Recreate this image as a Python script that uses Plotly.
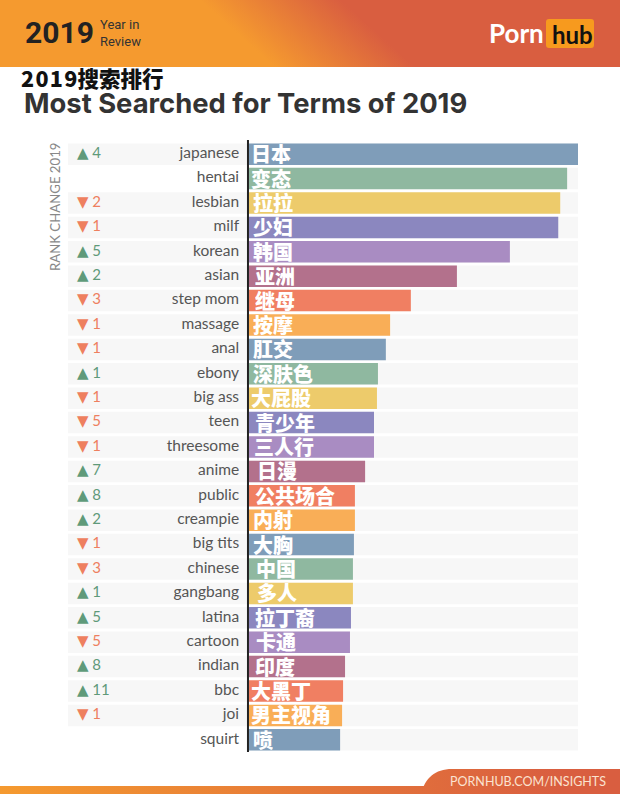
import base64
import plotly.graph_objects as go

terms = ["japanese", "hentai", "lesbian", "milf", "korean", "asian", "step mom", "massage", "anal", "ebony",
         "big ass", "teen", "threesome", "anime", "public", "creampie", "big tits", "chinese", "gangbang",
         "latina", "cartoon", "indian", "bbc", "joi", "squirt"]
terms_zh = ["日本", "变态", "拉拉", "少妇", "韩国", "亚洲", "继母", "按摩", "肛交", "深肤色",
            "大屁股", "青少年", "三人行", "日漫", "公共场合", "内射", "大胸", "中国", "多人",
            "拉丁裔", "卡通", "印度", "大黑丁", "男主视角", "喷"]
search_index = [100, 96.7, 94.6, 94, 79.3, 63.2, 49.2, 42.9, 41.6, 39.2,
                38.9, 38, 38, 35.3, 32.2, 32.2, 31.9, 31.6, 31.6,
                31, 30.7, 29.2, 28.6, 28.3, 27.7]
rank_change = [4, 0, -2, -1, 5, 2, -3, -1, -1, 1,
               -1, -5, -1, 7, 8, 2, -1, -3, 1,
               5, -5, 8, 11, -1, 0]

bar_colors = ["#7f9db9", "#8fb8a0", "#edcb6b", "#8b87bf", "#a98cc2", "#b3718c", "#f07f62", "#f9ae57"]
zh_shift = [3, 3, 5, 5, 5, 7, 7, 5, 5, 5, 3, 7, 6, 9, 7, 5, 5, 8, 9, 7, 8, 7, 3, 3, 5]

W, H = 620, 794
LEFT_EDGE = -55  # grey rows start left of the axis, under the rank change column


def px(x):
    return x / W


def py(y):
    return 1 - y / H


# header/footer bands and the logo box, gradients are not available on shapes
svg = f"""<svg xmlns="http://www.w3.org/2000/svg" width="{W}" height="{H}" viewBox="0 0 {W} {H}">
<defs>
<linearGradient id="top" gradientUnits="userSpaceOnUse" x1="200" y1="0" x2="263" y2="-70">
<stop offset="0" stop-color="#f59a2f"/><stop offset="1" stop-color="#d95e40"/></linearGradient>
<linearGradient id="bot" gradientUnits="userSpaceOnUse" x1="0" y1="0" x2="560" y2="0">
<stop offset="0" stop-color="#f59a2f"/><stop offset="1" stop-color="#d95e40"/></linearGradient>
</defs>
<rect width="{W}" height="67" fill="url(#top)"/>
<rect x="546" y="19" width="48" height="29" rx="3" fill="#f79a1e"/>
<rect y="786" width="{W}" height="8" fill="url(#bot)"/>
<path d="M421 794 C425 778 435 769 452 769 L{W} 769 L{W} 794 Z" fill="url(#bot)"/>
</svg>"""
svg_uri = "data:image/svg+xml;base64," + base64.b64encode(svg.encode()).decode()

fig = go.Figure()

# grey row backgrounds, rows without a rank change are only grey right of the axis
fig.add_trace(go.Bar(y=terms, x=[100 - LEFT_EDGE if c != 0 else 100 for c in rank_change],
                     base=[LEFT_EDGE if c != 0 else 0 for c in rank_change],
                     orientation="h", width=0.88, marker=dict(color="#f7f7f7", line_width=0),
                     hoverinfo="skip", showlegend=False))
fig.add_trace(go.Bar(y=terms, x=search_index, orientation="h", width=0.88,
                     marker=dict(color=[bar_colors[i % len(bar_colors)] for i in range(len(terms))], line_width=0),
                     showlegend=False))

fig.add_trace(go.Scatter(x=[-3] * len(terms), y=terms, mode="text", text=terms, textposition="middle left",
                         textfont=dict(family="Lato", size=15.5, color="#555555"),
                         hoverinfo="skip", showlegend=False))

# triangles as glyphs, the marker symbols sit off centre from the numbers
for sign, glyph, color in [(1, "▲", "#5f9a7a"), (-1, "▼", "#ee7f5f")]:
    rows = [i for i, c in enumerate(rank_change) if c * sign > 0]
    fig.add_trace(go.Scatter(x=[-52.3] * len(rows), y=[terms[i] for i in rows], mode="text",
                             text=[f'<span style="font-family:DejaVu Sans">{glyph}</span> {abs(rank_change[i])}'
                                   for i in rows],
                             textposition="middle right",
                             textfont=dict(family="Lato", size=15, color=color),
                             hoverinfo="skip", showlegend=False))

annotations = []
for term, label, shift in zip(terms, terms_zh, zh_shift):
    annotations.append(dict(x=0, y=term, xref="x", yref="y", xanchor="left", yanchor="middle",
                            xshift=shift - 3, yshift=1, text=label, showarrow=False, height=22,
                            font=dict(family="Noto Sans CJK SC", size=20, color="white", weight=900)))


def page_text(x, y, text, size, color, family="Lato", weight=400, anchor="left", angle=0):
    annotations.append(dict(x=px(x), y=py(y), xref="paper", yref="paper", xanchor=anchor, yanchor="middle",
                            text=text, showarrow=False, textangle=angle, align="left",
                            font=dict(family=family, size=size, color=color, weight=weight)))


page_text(23, 33, "2019", 30, "#222222", "Roboto", 700)
page_text(98, 33, "Year in<br>Review", 13, "#333333", "Roboto")
page_text(487, 33, "Porn", 26, "white", "Lato", 700)
page_text(550, 34, "hub", 24, "#111111", "Lato", 700)
page_text(19, 78, "2\u200a0\u200a1\u200a9搜索排行", 21.5, "#111111", "Noto Sans CJK SC", 900)
page_text(22, 103, "Most Searched for Terms of 2019", 27.4, "#333333", "Inter", 700)
page_text(55, 207, "RANK CHANGE 2019", 13.2, "#888888", anchor="center", angle=-90)
page_text(448, 781, "PORNHUB.COM/INSIGHTS", 12.5, "#fbe3d0")

fig.update_layout(
    width=W, height=H, autosize=False, margin=dict(l=0, r=0, t=0, b=0),
    paper_bgcolor="white", plot_bgcolor="white", barmode="overlay",
    xaxis=dict(domain=[px(68), px(578)], range=[LEFT_EDGE, 100], showgrid=False, zeroline=False,
               showticklabels=False, ticks=""),
    yaxis=dict(domain=[py(752), py(142)], categoryorder="array", categoryarray=terms,
               range=[len(terms) - 0.5, -0.5], showgrid=False, zeroline=False, showticklabels=False, ticks=""),
    images=[dict(source=svg_uri, xref="paper", yref="paper", x=0, y=1, sizex=1, sizey=1,
                 xanchor="left", yanchor="top", sizing="stretch", layer="below")],
    shapes=[dict(type="line", xref="x", yref="paper", x0=-0.3, x1=-0.3, y0=py(752), y1=py(140),
                 line=dict(color="#222222", width=2))],
    annotations=annotations,
)

fig.write_html("out.html", config={"displayModeBar": False},
               post_script="document.body.style.margin='0';document.body.style.overflow='hidden';")
